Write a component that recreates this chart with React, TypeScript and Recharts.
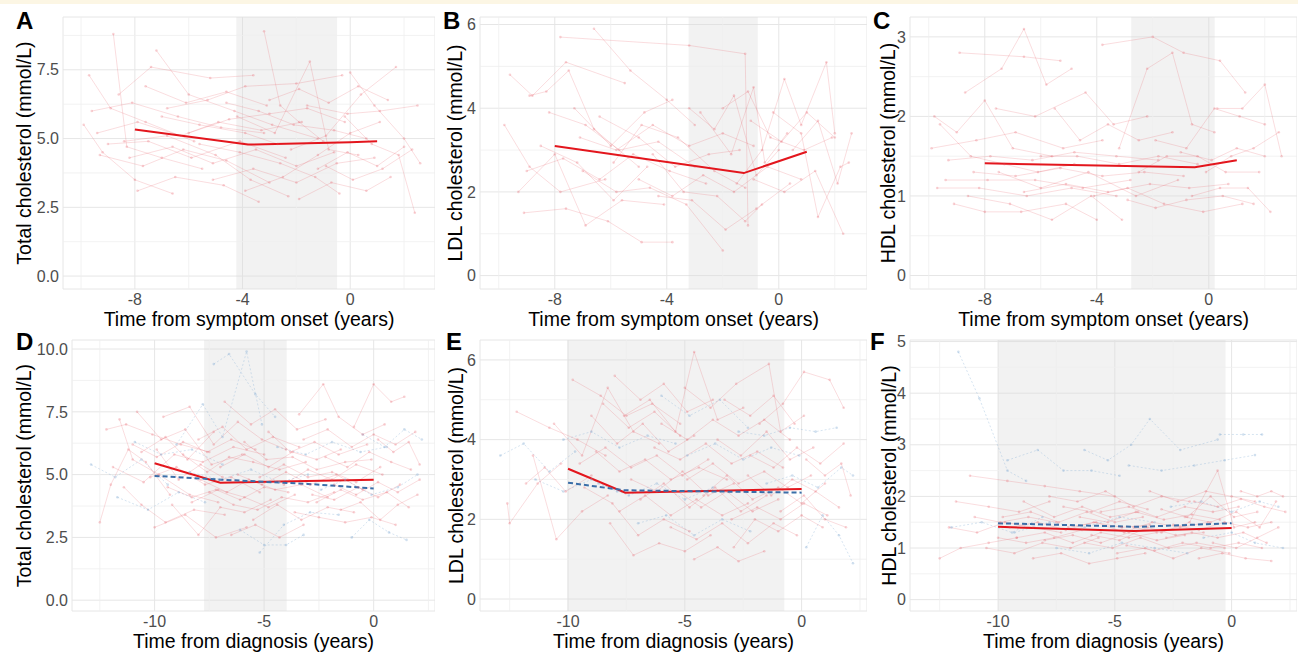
import React from "react";
import { LineChart, Line, XAxis, YAxis, CartesianGrid, ReferenceArea, ReferenceLine } from "recharts";

type Traj = number[][]; // [time, value] pairs

// ---- panel A: total cholesterol vs symptom onset ----
const trajA: Traj[] = [
  [[-9.7, 7.3], [-8.9, 6.1], [-7.6, 5.6], [-5.8, 4.9]],
  [[-8.8, 8.8], [-8.3, 4.7], [-7.0, 4.3], [-5.5, 3.9]],
  [[-9.9, 5.5], [-9.2, 4.5], [-8.0, 3.5], [-6.6, 3.0]],
  [[-9.3, 4.4], [-7.7, 4.0], [-6.2, 4.6], [-4.6, 4.2], [-3.0, 3.4]],
  [[-8.6, 6.6], [-7.4, 7.6], [-5.2, 7.2], [-3.6, 7.3]],
  [[-7.2, 8.2], [-6.0, 6.6], [-4.3, 6.0], [-2.9, 5.5], [-1.2, 5.0]],
  [[-9.6, 6.0], [-8.1, 6.3], [-6.4, 5.8], [-4.8, 5.4], [-3.2, 5.2]],
  [[-8.4, 4.9], [-6.8, 5.1], [-5.0, 4.4], [-3.7, 3.5], [-2.3, 2.9]],
  [[-7.9, 3.1], [-6.5, 3.6], [-4.7, 3.3], [-3.4, 2.7]],
  [[-6.8, 6.1], [-5.3, 6.4], [-3.9, 6.9], [-2.0, 7.0], [-0.3, 7.3]],
  [[-3.2, 8.9], [-2.6, 6.2], [-1.9, 5.6], [-1.0, 4.9]],
  [[-4.2, 5.8], [-2.8, 5.2], [-1.5, 7.8], [-0.8, 4.6], [0.3, 4.4]],
  [[-5.6, 4.8], [-4.1, 4.5], [-2.6, 4.1], [-1.3, 3.6], [-0.4, 3.0]],
  [[-3.9, 3.1], [-2.5, 3.6], [-1.2, 4.4], [0.0, 5.2], [1.1, 5.6]],
  [[-2.2, 4.6], [-0.9, 5.1], [0.4, 6.6], [1.7, 7.6]],
  [[-1.6, 6.2], [-0.1, 5.9], [1.1, 6.0], [2.5, 6.2]],
  [[-0.9, 4.0], [0.1, 3.5], [1.2, 3.9], [2.3, 4.6]],
  [[-0.2, 5.8], [0.8, 4.8], [1.8, 4.4], [2.4, 2.3]],
  [[-6.0, 5.2], [-4.5, 5.7], [-3.0, 5.9], [-1.6, 6.1], [-0.2, 5.6]],
  [[-9.0, 4.8], [-7.5, 4.9], [-5.9, 4.3], [-4.1, 4.9], [-2.4, 4.3]],
  [[-4.6, 6.3], [-3.4, 6.0], [-2.1, 5.5], [-0.6, 5.3], [0.6, 5.0]],
  [[-1.9, 2.8], [-0.7, 3.4], [0.6, 3.1], [1.5, 3.6]],
  [[-7.0, 5.8], [-5.6, 5.5], [-3.9, 5.2], [-2.7, 4.8]],
  [[0.0, 7.4], [0.9, 6.2], [2.0, 5.0], [2.6, 4.1]],
  [[-5.1, 3.5], [-3.6, 3.9], [-2.0, 3.4], [-0.5, 4.1], [0.9, 4.3]],
  [[-9.4, 5.2], [-7.9, 5.6], [-6.3, 5.1], [-4.9, 5.6], [-3.3, 5.3], [-1.8, 5.6]],
  [[-8.2, 4.3], [-6.6, 4.7], [-5.1, 4.1], [-3.5, 4.6], [-2.0, 4.0], [-0.6, 4.5]],
  [[-3.0, 6.4], [-1.9, 6.8], [-0.8, 6.3], [0.3, 6.9], [1.4, 6.4]],
  [[-7.6, 6.9], [-6.1, 6.3], [-4.6, 6.7], [-3.1, 6.2]],
  [[-1.2, 3.9], [-0.1, 4.5], [1.0, 4.0], [2.0, 4.7]],
];
const meanA: Traj = [[-8, 5.33], [-3.8, 4.78], [0, 4.87], [1, 4.9]];
const bandA = [-4.23, -0.49];

// ---- panel B: LDL vs symptom onset ----
const trajB: Traj[] = [
  [[-7.8, 5.7], [-3.2, 5.5], [-1.2, 5.3], [-1.1, 1.2]],
  [[-9.6, 4.8], [-8.8, 4.3], [-7.6, 5.1], [-5.5, 4.6]],
  [[-6.6, 5.9], [-5.3, 4.9], [-4.0, 4.2], [-3.0, 3.6]],
  [[-8.9, 4.3], [-8.3, 4.4], [-7.5, 4.9], [-6.6, 3.5], [-5.0, 2.6]],
  [[-9.8, 3.6], [-8.9, 2.6], [-7.8, 2.0], [-6.2, 2.3]],
  [[-9.3, 2.0], [-8.0, 2.9], [-6.9, 1.2], [-5.6, 1.8], [-4.1, 1.7]],
  [[-9.1, 1.5], [-7.6, 1.6], [-6.1, 1.3], [-4.9, 0.8], [-3.8, 0.8]],
  [[-8.2, 3.9], [-6.9, 3.6], [-5.7, 3.0], [-4.3, 3.2], [-3.0, 2.6]],
  [[-7.0, 2.5], [-5.8, 2.0], [-4.6, 2.1], [-3.3, 1.7], [-2.0, 0.6]],
  [[-5.9, 2.7], [-4.9, 3.6], [-3.6, 3.3], [-2.3, 2.5], [-1.2, 2.1]],
  [[-3.2, 4.0], [-2.3, 3.5], [-1.6, 4.3], [-0.8, 2.4], [0.0, 3.0]],
  [[-2.8, 3.9], [-1.7, 2.9], [-0.9, 4.5], [-0.5, 2.7], [0.3, 3.4]],
  [[-4.5, 2.9], [-3.4, 2.0], [-2.2, 1.9], [-1.2, 1.3], [-0.6, 1.7]],
  [[-1.5, 2.2], [-0.6, 3.0], [0.2, 4.7], [0.8, 3.6], [1.7, 5.1], [2.0, 3.4]],
  [[-0.9, 2.3], [0.2, 2.0], [1.3, 2.5], [2.3, 1.0]],
  [[-0.2, 3.9], [0.8, 3.4], [1.4, 1.4], [2.2, 2.6], [2.5, 2.7]],
  [[-6.4, 3.8], [-5.0, 3.3], [-3.7, 2.6], [-2.5, 2.9], [-1.4, 3.0]],
  [[-8.5, 3.1], [-7.2, 2.7], [-5.9, 1.8], [-4.7, 2.6]],
  [[-4.3, 1.9], [-3.1, 1.8], [-1.9, 1.1], [-0.8, 1.6], [0.4, 2.2]],
  [[-2.0, 4.0], [-1.1, 4.4], [-0.3, 3.3], [0.9, 3.0], [1.9, 3.3]],
  [[0.5, 3.0], [1.4, 3.7], [2.1, 2.2], [2.6, 3.4]],
  [[-7.3, 4.0], [-6.0, 3.1], [-4.8, 3.9], [-3.8, 4.2]],
  [[-9.0, 2.5], [-7.7, 2.8], [-6.4, 2.3], [-5.2, 2.9], [-3.9, 2.5], [-2.6, 2.2]],
  [[-7.1, 3.3], [-5.8, 3.0], [-4.5, 3.6], [-3.2, 3.1], [-2.0, 3.4], [-0.9, 3.1]],
  [[-5.0, 2.3], [-3.8, 1.9], [-2.7, 2.4], [-1.6, 2.0], [-0.4, 2.6], [0.8, 2.3]],
  [[-1.0, 3.7], [0.1, 3.2], [1.0, 3.9], [2.0, 3.3]],
];
const meanB: Traj = [[-8, 3.1], [-1.25, 2.45], [1, 2.96]];
const bandB = [-3.22, -0.75];

// ---- panel C: HDL vs symptom onset ----
const trajC: Traj[] = [
  [[-8.9, 2.8], [-6.6, 2.75], [-5.3, 2.7]],
  [[-8.7, 2.3], [-7.4, 2.6], [-6.6, 3.1], [-5.8, 2.4], [-4.9, 2.6]],
  [[-9.8, 2.0], [-9.0, 1.8], [-8.0, 2.2], [-7.0, 1.6], [-5.6, 1.5]],
  [[-9.6, 1.9], [-8.5, 1.5], [-7.3, 1.4], [-6.1, 1.3], [-4.8, 1.4]],
  [[-9.9, 1.6], [-8.3, 1.7], [-6.9, 1.8], [-5.2, 1.6], [-3.8, 1.7]],
  [[-9.4, 1.2], [-7.9, 1.2], [-6.2, 1.2], [-4.5, 1.1], [-2.8, 1.2]],
  [[-9.7, 1.1], [-8.2, 1.1], [-6.5, 1.0], [-4.9, 1.1], [-3.3, 1.0]],
  [[-9.1, 0.9], [-8.0, 0.8], [-6.7, 0.8], [-5.1, 0.9], [-4.0, 0.7]],
  [[-8.6, 1.0], [-7.1, 0.9], [-5.6, 0.7], [-4.2, 1.0], [-3.1, 0.7]],
  [[-7.6, 2.1], [-6.2, 2.0], [-4.4, 2.3], [-3.4, 1.9], [-2.2, 2.0]],
  [[-5.5, 2.1], [-4.6, 1.7], [-3.6, 1.9], [-2.5, 1.7], [-1.3, 1.8]],
  [[-3.8, 2.9], [-2.0, 3.0], [-0.9, 2.8], [0.4, 2.7], [1.3, 2.3]],
  [[-3.2, 1.6], [-2.2, 2.6], [-1.3, 2.8], [-0.6, 1.9], [0.2, 1.8]],
  [[-2.5, 1.3], [-1.5, 1.5], [-0.4, 1.5], [0.6, 1.3], [1.8, 1.3]],
  [[-4.1, 1.0], [-2.9, 1.1], [-1.6, 0.9], [-0.2, 0.8], [1.2, 0.9]],
  [[-1.9, 1.7], [-0.8, 1.6], [0.2, 2.1], [1.1, 2.0], [2.0, 1.9]],
  [[-0.6, 1.0], [0.4, 1.1], [1.4, 1.1], [2.2, 0.8]],
  [[-0.1, 1.3], [0.8, 1.5], [1.6, 1.6], [2.5, 1.8]],
  [[0.3, 2.1], [1.2, 2.1], [2.0, 2.4], [2.6, 1.5]],
  [[-6.0, 1.5], [-4.7, 1.5], [-3.2, 1.4], [-1.8, 1.5], [-0.4, 1.4]],
  [[-7.5, 1.3], [-6.0, 1.1], [-4.3, 1.3], [-2.6, 1.0], [-1.1, 1.2]],
  [[-2.9, 0.95], [-1.9, 0.85], [-0.8, 0.95], [0.5, 1.0], [1.6, 0.9]],
  [[-9.3, 1.45], [-7.8, 1.5], [-6.3, 1.45], [-4.8, 1.55], [-3.3, 1.5], [-1.8, 1.45]],
  [[-8.4, 1.3], [-6.9, 1.25], [-5.3, 1.35], [-3.8, 1.25], [-2.3, 1.3], [-0.9, 1.25]],
  [[-6.6, 1.05], [-5.1, 1.15], [-3.6, 1.05], [-2.1, 1.15], [-0.7, 1.1], [0.7, 1.15]],
  [[-1.0, 1.55], [0.1, 1.45], [1.0, 1.6], [2.0, 1.5]],
];
const meanC: Traj = [[-8, 1.41], [-0.5, 1.36], [1, 1.45]];
const bandC = [-2.77, 0.21];

// ---- panel D: total cholesterol vs diagnosis ----
const trajDRed: Traj[] = [
  [[-12.5, 3.1], [-12.0, 4.6], [-11.2, 6.0], [-10.4, 5.5], [-9.3, 4.2]],
  [[-12.2, 6.8], [-11.3, 7.0], [-10.1, 6.6], [-8.8, 6.2], [-7.5, 5.9]],
  [[-11.6, 7.2], [-11.0, 5.6], [-9.8, 5.0], [-8.4, 4.2], [-7.1, 3.9]],
  [[-11.4, 4.5], [-10.6, 3.8], [-9.5, 3.1], [-8.2, 3.6], [-6.8, 3.4]],
  [[-10.8, 7.5], [-9.7, 6.4], [-8.6, 6.8], [-7.4, 5.4], [-6.0, 5.8]],
  [[-10.2, 4.9], [-9.0, 5.3], [-7.7, 4.6], [-6.5, 4.9], [-5.2, 4.3]],
  [[-9.6, 7.3], [-8.4, 7.7], [-7.3, 6.2], [-6.2, 7.1], [-5.1, 6.4], [-4.0, 6.0]],
  [[-9.2, 3.8], [-8.0, 2.6], [-7.0, 3.7], [-5.9, 3.5], [-4.7, 4.0]],
  [[-8.7, 5.8], [-7.6, 5.1], [-6.6, 5.7], [-5.5, 5.5], [-4.3, 5.2], [-3.1, 5.5]],
  [[-8.0, 6.4], [-6.9, 6.9], [-5.8, 6.0], [-4.6, 6.5], [-3.4, 6.1]],
  [[-7.5, 4.3], [-6.4, 3.8], [-5.3, 3.6], [-4.2, 4.1], [-3.0, 3.9], [-1.8, 4.3]],
  [[-6.8, 7.9], [-5.6, 7.0], [-4.5, 7.6], [-3.5, 6.8], [-2.2, 7.2]],
  [[-6.2, 5.0], [-5.1, 4.6], [-4.0, 5.1], [-2.9, 4.6], [-1.7, 5.0], [-0.5, 4.4]],
  [[-5.5, 3.2], [-4.4, 3.8], [-3.3, 3.2], [-2.1, 3.7], [-0.9, 3.5]],
  [[-4.8, 6.7], [-3.8, 5.9], [-2.7, 6.3], [-1.6, 5.8], [-0.3, 6.2]],
  [[-4.1, 4.6], [-3.0, 5.2], [-1.9, 4.8], [-0.8, 5.4], [0.4, 5.0]],
  [[-3.4, 7.4], [-2.3, 8.6], [-1.6, 7.3], [-0.5, 6.6], [0.5, 7.0]],
  [[-2.8, 4.2], [-1.8, 4.0], [-0.7, 4.5], [0.2, 4.1], [1.2, 4.6]],
  [[-2.2, 5.7], [-1.2, 5.3], [-0.2, 5.9], [0.8, 5.5], [1.7, 5.2]],
  [[-1.5, 3.6], [-0.6, 3.9], [0.3, 3.2], [1.1, 3.8], [2.0, 4.2]],
  [[-0.9, 6.9], [0.0, 8.6], [0.8, 7.9], [1.4, 8.1]],
  [[-11.9, 5.3], [-10.5, 4.7], [-9.1, 5.8], [-7.8, 5.5], [-6.4, 6.1], [-5.0, 5.8]],
  [[-7.9, 4.8], [-6.7, 4.3], [-5.7, 4.8], [-4.5, 4.4], [-3.3, 4.6], [-2.1, 4.1]],
  [[-5.9, 6.3], [-4.9, 5.6], [-3.7, 5.7], [-2.6, 5.2], [-1.3, 5.5], [-0.1, 5.6]],
  [[-9.9, 6.0], [-8.9, 4.8], [-7.9, 5.4], [-6.9, 4.9]],
  [[-3.6, 3.5], [-2.5, 3.3], [-1.3, 3.1], [-0.1, 3.3], [1.0, 3.0]],
  [[-10.0, 2.9], [-8.6, 3.4], [-7.2, 2.5], [-5.8, 2.9]],
  [[0.2, 6.4], [0.9, 5.9], [1.6, 6.3], [2.1, 5.4]],
  [[-11.0, 6.2], [-9.9, 5.7], [-8.7, 6.3], [-7.6, 5.9], [-6.5, 6.4], [-5.4, 6.0]],
  [[-9.4, 4.5], [-8.3, 4.1], [-7.2, 4.4], [-6.1, 4.0], [-5.0, 4.5], [-3.9, 4.3]],
  [[-7.0, 5.3], [-5.9, 5.8], [-4.8, 5.3], [-3.7, 5.9], [-2.6, 5.6], [-1.5, 6.0]],
  [[-5.2, 4.9], [-4.1, 5.4], [-3.0, 4.9], [-1.9, 5.1], [-0.8, 4.7], [0.3, 5.3]],
  [[-3.2, 6.4], [-2.1, 6.8], [-1.0, 6.1], [0.0, 6.6], [1.0, 6.2], [1.9, 6.7]],
  [[-1.8, 4.6], [-0.8, 4.2], [0.2, 4.7], [1.1, 4.3], [2.1, 4.8]],
  [[-8.3, 3.9], [-7.1, 4.4], [-5.9, 4.1], [-4.8, 3.7], [-3.6, 4.2]],
  [[-6.5, 2.6], [-5.4, 3.0], [-4.3, 2.5], [-3.2, 3.0]],
  [[-2.6, 3.9], [-1.5, 4.4], [-0.5, 4.0], [0.6, 4.3], [1.6, 3.7]],
  [[-10.6, 5.9], [-9.5, 6.5], [-8.5, 5.6], [-7.3, 6.7]],
];
const trajDBlue: Traj[] = [
  [[-12.9, 5.4], [-11.8, 4.9], [-10.6, 5.6], [-9.4, 4.6]],
  [[-11.7, 4.1], [-10.3, 3.6], [-8.9, 4.3], [-7.7, 3.9]],
  [[-9.0, 6.2], [-7.8, 7.8], [-6.9, 6.5], [-5.8, 9.9], [-5.1, 7.0]],
  [[-7.3, 9.4], [-6.6, 9.8], [-5.4, 8.2], [-4.5, 7.3]],
  [[-8.4, 5.1], [-7.0, 4.8], [-5.6, 5.2], [-4.3, 4.7], [-3.0, 5.0]],
  [[-6.1, 2.8], [-5.0, 2.2], [-4.0, 2.2], [-3.2, 2.6]],
  [[-5.2, 1.9], [-4.1, 3.0], [-2.9, 3.5], [-1.6, 3.4]],
  [[-4.4, 6.1], [-3.1, 5.8], [-1.9, 6.3], [-0.6, 5.9], [0.6, 6.1]],
  [[-2.4, 4.4], [-1.3, 4.8], [-0.1, 4.2], [1.1, 4.5], [2.0, 5.0]],
  [[-1.0, 2.5], [-0.2, 3.2], [0.7, 2.7], [1.5, 2.4]],
  [[-10.9, 6.3], [-9.7, 5.8], [-8.3, 6.0], [-6.9, 5.4]],
  [[-0.5, 6.6], [0.5, 6.1], [1.4, 6.8], [2.2, 6.4]],
];
const meanDRed: Traj = [[-10, 5.45], [-7, 4.68], [0, 4.8]];
const meanDBlue: Traj = [[-10, 4.95], [-7, 4.8], [-3, 4.63], [0, 4.45]];
const bandD = [-7.74, -3.97];

// ---- panel E: LDL vs diagnosis ----
const trajERed: Traj[] = [
  [[-12.6, 2.4], [-12.5, 1.9], [-11.3, 2.9], [-10.3, 3.4]],
  [[-12.2, 4.7], [-10.8, 4.3], [-9.6, 4.0], [-8.4, 3.6]],
  [[-11.5, 3.6], [-10.5, 1.5], [-9.4, 2.2], [-8.3, 2.6]],
  [[-10.6, 4.4], [-9.4, 3.6], [-8.3, 5.3], [-7.2, 4.2], [-6.1, 3.9]],
  [[-9.8, 5.5], [-8.6, 5.1], [-7.5, 4.6], [-6.4, 4.9], [-5.2, 4.4]],
  [[-9.3, 2.8], [-8.1, 2.4], [-7.0, 1.6], [-5.9, 2.0], [-4.8, 1.7]],
  [[-8.8, 3.7], [-7.8, 3.2], [-6.7, 3.5], [-5.6, 3.0], [-4.4, 3.3], [-3.2, 3.0]],
  [[-8.2, 1.9], [-7.2, 1.1], [-6.1, 1.4], [-5.0, 1.2], [-3.9, 1.6]],
  [[-7.6, 4.6], [-6.5, 5.0], [-5.4, 4.2], [-4.6, 6.2], [-3.6, 4.5], [-2.5, 4.8]],
  [[-6.9, 2.5], [-5.9, 2.9], [-4.8, 2.3], [-3.7, 2.8], [-2.6, 2.2], [-1.5, 2.6]],
  [[-6.3, 3.8], [-5.2, 3.5], [-4.1, 3.9], [-3.0, 3.4], [-1.9, 3.7], [-0.8, 3.3]],
  [[-5.6, 1.8], [-4.5, 1.5], [-3.4, 1.9], [-2.3, 1.4], [-1.2, 1.9], [-0.2, 1.6]],
  [[-5.0, 5.3], [-3.9, 4.8], [-2.8, 5.4], [-1.4, 5.9], [-0.9, 4.2], [0.1, 4.6]],
  [[-4.2, 2.6], [-3.2, 3.1], [-2.1, 2.5], [-1.0, 2.8], [0.0, 2.4], [1.0, 2.9]],
  [[-3.6, 4.0], [-2.6, 3.6], [-1.5, 4.2], [-0.5, 3.5], [0.5, 3.8]],
  [[-2.9, 1.3], [-2.0, 2.0], [-1.0, 1.7], [0.0, 2.1], [0.9, 1.8]],
  [[-2.3, 3.1], [-1.3, 2.6], [-0.4, 3.0], [0.6, 2.7], [1.6, 2.3]],
  [[-1.8, 4.4], [-0.8, 4.9], [0.1, 5.7], [1.2, 5.5], [1.8, 4.8]],
  [[-0.9, 2.2], [0.1, 2.6], [1.0, 2.0], [1.9, 1.8]],
  [[-7.3, 3.0], [-6.2, 2.7], [-5.1, 3.2], [-4.0, 2.6], [-2.9, 2.9]],
  [[-9.0, 4.6], [-7.9, 3.9], [-6.8, 4.4], [-5.7, 3.7], [-4.6, 4.1]],
  [[-4.6, 1.0], [-3.6, 1.3], [-2.7, 0.95], [-1.6, 1.2]],
  [[-8.0, 5.6], [-6.9, 5.0], [-5.9, 5.4], [-4.9, 4.7], [-3.8, 5.0]],
  [[0.2, 3.5], [1.0, 3.1], [1.7, 3.4], [2.1, 2.6]],
  [[-3.3, 5.0], [-2.2, 4.6], [-1.2, 5.1], [-0.3, 4.4]],
  [[-11.8, 2.9], [-11.0, 3.3], [-10.1, 2.7], [-9.0, 3.1]],
  [[-9.5, 3.4], [-8.4, 3.8], [-7.3, 3.3], [-6.2, 3.6], [-5.1, 3.1], [-4.0, 3.5]],
  [[-7.8, 2.2], [-6.7, 2.6], [-5.6, 2.1], [-4.5, 2.5], [-3.4, 2.1], [-2.3, 2.4]],
  [[-6.0, 4.4], [-4.9, 4.0], [-3.8, 4.5], [-2.7, 4.1], [-1.6, 4.5], [-0.5, 4.0]],
  [[-4.9, 3.0], [-3.8, 3.4], [-2.7, 2.9], [-1.6, 3.2], [-0.6, 2.8], [0.4, 3.1]],
  [[-3.0, 2.0], [-1.9, 2.3], [-0.9, 2.0], [0.1, 2.4], [1.1, 2.1]],
  [[-8.5, 4.9], [-7.4, 4.3], [-6.3, 4.7], [-5.2, 4.1]],
  [[-2.2, 3.6], [-1.2, 3.3], [-0.2, 3.8], [0.8, 3.4], [1.8, 3.9]],
  [[-5.3, 2.7], [-4.3, 2.3], [-3.2, 2.7], [-2.1, 2.2], [-1.0, 2.5]],
];
const trajEBlue: Traj[] = [
  [[-12.9, 3.6], [-11.9, 3.9], [-10.8, 3.2], [-9.7, 3.7]],
  [[-10.2, 4.0], [-9.0, 4.2], [-7.8, 3.8], [-6.6, 4.1], [-5.4, 3.9]],
  [[-8.7, 2.9], [-7.4, 2.6], [-6.2, 2.9], [-5.0, 2.5], [-3.8, 2.8]],
  [[-7.0, 1.9], [-5.8, 2.1], [-4.6, 1.6], [-3.4, 2.0], [-2.2, 1.7]],
  [[-6.0, 5.1], [-4.8, 4.6], [-3.5, 5.0], [-2.3, 4.3]],
  [[-4.9, 3.6], [-3.7, 3.9], [-2.5, 3.5], [-1.3, 3.8], [-0.1, 3.6]],
  [[-2.7, 4.2], [-1.6, 4.1], [-0.5, 4.3], [0.6, 4.2], [1.5, 4.3]],
  [[-1.5, 2.9], [-0.4, 3.1], [0.7, 2.8], [1.7, 3.3], [2.2, 3.1]],
  [[-11.4, 3.0], [-10.2, 2.7], [-9.0, 3.0], [-7.9, 2.7]],
  [[0.2, 1.3], [0.9, 2.1], [1.6, 1.6], [2.2, 0.9]],
];
const meanERed: Traj = [[-10, 3.27], [-7.55, 2.67], [0, 2.76]];
const meanEBlue: Traj = [[-10, 2.92], [-7.6, 2.73], [0, 2.67]];
const bandE = [-10.03, -0.74];

// ---- panel F: HDL vs diagnosis ----
const trajFRed: Traj[] = [
  [[-12.5, 0.8], [-11.6, 1.0], [-10.4, 1.1], [-9.2, 1.2]],
  [[-12.1, 1.4], [-10.9, 1.3], [-9.7, 1.5], [-8.5, 1.4], [-7.3, 1.3]],
  [[-11.8, 1.9], [-10.4, 1.8], [-9.1, 1.7], [-7.8, 1.9]],
  [[-11.2, 2.4], [-9.6, 2.3], [-8.0, 2.2], [-6.5, 2.1], [-5.0, 2.0]],
  [[-10.5, 1.0], [-9.3, 0.9], [-8.1, 1.1], [-6.9, 1.0], [-5.7, 1.2]],
  [[-9.8, 1.6], [-8.6, 1.7], [-7.4, 1.5], [-6.2, 1.7], [-5.0, 1.5], [-3.8, 1.6]],
  [[-9.2, 1.2], [-8.0, 1.3], [-6.8, 1.1], [-5.6, 1.3], [-4.4, 1.2], [-3.2, 1.3]],
  [[-8.5, 0.8], [-7.3, 0.9], [-6.1, 0.7], [-4.9, 0.8], [-3.7, 0.9]],
  [[-7.8, 2.0], [-6.6, 1.9], [-5.4, 2.1], [-4.2, 1.8], [-3.0, 2.0], [-1.8, 1.9]],
  [[-7.0, 1.4], [-5.8, 1.5], [-4.6, 1.3], [-3.4, 1.5], [-2.2, 1.4], [-1.0, 1.5]],
  [[-6.3, 1.1], [-5.1, 1.0], [-3.9, 1.2], [-2.7, 1.0], [-1.5, 1.1], [-0.3, 1.0]],
  [[-5.6, 1.7], [-4.4, 1.8], [-3.2, 1.6], [-2.0, 1.8], [-0.8, 1.7], [0.3, 1.8]],
  [[-4.9, 0.9], [-3.7, 1.0], [-2.5, 0.8], [-1.3, 1.0], [-0.1, 0.9]],
  [[-4.2, 1.4], [-3.0, 1.3], [-1.8, 1.5], [-0.6, 2.5], [0.1, 1.4], [1.0, 1.5]],
  [[-3.5, 2.1], [-2.3, 1.9], [-1.1, 2.1], [0.0, 2.0], [1.0, 1.9]],
  [[-2.8, 1.2], [-1.7, 1.3], [-0.6, 1.2], [0.5, 1.3], [1.5, 1.1]],
  [[-2.0, 1.6], [-0.9, 1.5], [0.2, 1.7], [1.2, 1.4], [1.9, 1.9]],
  [[-1.4, 0.8], [-0.4, 0.9], [0.6, 0.8], [1.7, 0.75]],
  [[-0.8, 1.1], [0.2, 1.0], [1.1, 1.2], [2.0, 1.4]],
  [[-8.9, 1.9], [-7.6, 1.6], [-6.4, 1.8], [-5.2, 1.6], [-4.0, 1.7]],
  [[-6.0, 1.25], [-4.8, 1.15], [-3.6, 1.4], [-2.4, 1.25], [-1.2, 1.3]],
  [[-10.0, 1.2], [-8.8, 1.1], [-7.6, 1.2], [-6.4, 1.35]],
  [[-3.0, 1.75], [-1.9, 1.6], [-0.9, 2.0], [0.1, 1.6], [1.1, 1.7]],
  [[0.4, 2.1], [1.1, 2.0], [1.7, 2.1], [2.2, 2.0]],
  [[-9.5, 1.4], [-8.3, 1.5], [-7.1, 1.35], [-5.9, 1.5], [-4.7, 1.4], [-3.5, 1.45]],
  [[-8.0, 1.15], [-6.8, 1.25], [-5.6, 1.1], [-4.4, 1.3], [-3.2, 1.15], [-2.0, 1.25]],
  [[-6.5, 1.6], [-5.3, 1.5], [-4.1, 1.7], [-2.9, 1.55], [-1.7, 1.65], [-0.5, 1.55]],
  [[-4.5, 1.05], [-3.3, 0.95], [-2.1, 1.1], [-0.9, 1.0], [0.3, 1.1], [1.3, 1.0]],
  [[-2.5, 1.45], [-1.4, 1.35], [-0.3, 1.5], [0.7, 1.4], [1.7, 1.5]],
  [[-7.2, 1.8], [-6.0, 1.7], [-4.8, 1.9], [-3.6, 1.75]],
  [[-11.0, 1.6], [-9.9, 1.5], [-8.7, 1.6], [-7.5, 1.5]],
  [[-1.6, 1.9], [-0.6, 1.8], [0.4, 1.95], [1.4, 1.8], [2.3, 1.7]],
];
const trajFBlue: Traj[] = [
  [[-11.7, 4.8], [-10.8, 3.9], [-9.6, 2.5], [-8.8, 2.3]],
  [[-9.6, 2.7], [-8.3, 2.9], [-7.2, 2.5], [-6.0, 2.5], [-4.8, 2.4]],
  [[-6.3, 2.9], [-5.3, 2.7], [-4.3, 3.0], [-3.5, 3.5], [-2.2, 2.9], [-0.6, 3.1]],
  [[-9.3, 1.3], [-7.8, 1.5], [-6.3, 1.4], [-4.8, 1.6], [-3.3, 1.5]],
  [[-7.5, 1.0], [-6.1, 0.9], [-4.7, 1.1], [-3.3, 1.0], [-1.9, 0.9]],
  [[-4.4, 2.6], [-3.0, 2.5], [-1.6, 2.6], [-0.3, 2.7], [1.0, 2.8]],
  [[-2.6, 1.8], [-1.3, 1.9], [0.0, 1.7], [1.2, 1.9], [2.0, 1.8]],
  [[-12.0, 1.4], [-10.7, 1.5], [-9.4, 1.3], [-8.1, 1.6]],
  [[-0.5, 3.2], [0.5, 3.2], [1.3, 3.2]],
  [[-1.2, 1.2], [0.0, 1.3], [1.0, 1.1], [2.2, 1.0]],
];
const meanFRed: Traj = [[-10, 1.41], [-4.2, 1.33], [0, 1.39]];
const meanFBlue: Traj = [[-10, 1.48], [-4, 1.41], [0, 1.48]];
const bandF = [-10, -0.26];

// ticks
const topXMajor = [-8, -4, 0];
const topXMinor = [-10, -6, -2, 2];
const botXMajor = [-10, -5, 0];
const botXMinor = [-12.5, -7.5, -2.5, 2.5];
const totalYMajor = [0, 2.5, 5, 7.5];
const totalYMinor = [1.25, 3.75, 6.25, 8.75];
const totalDYMajor = [0, 2.5, 5, 7.5, 10];
const ldlYMajor = [0, 2, 4, 6];
const ldlYMinor = [1, 3, 5];
const hdlYMajor = [0, 1, 2, 3];
const hdlYMinor = [0.5, 1.5, 2.5];
const hdlFYMajor = [0, 1, 2, 3, 4, 5];
const hdlFYMinor = [0.5, 1.5, 2.5, 3.5, 4.5];

const RED = "#e3161d";
const PINK = "#e8505a";
const LIGHTBLUE = "#8cb2d8";
const BLUE = "#3b6ea8";
const GRID = "#e6e6e6";
const GRID_MINOR = "#efefef";
const PAD = 10; // room above the panel for the top tick label

const toPts = (tr: Traj) => tr.map(([t, v]) => ({ t, v }));

interface PanelProps {
  letter: string;
  letterPos: [number, number];
  left: number;
  top: number;
  width: number;
  height: number;
  yAxisWidth: number;
  titleOffset: number;
  xDomain: [number, number];
  yDomain: [number, number];
  xMajor: number[];
  xMinor: number[];
  yMajor: number[];
  yMinor: number[];
  yDigits: number;
  band: number[];
  red: Traj[];
  blue: Traj[];
  redMean: Traj;
  blueMean?: Traj;
  xTitle: string;
  yTitle: string;
}

const Panel: React.FC<PanelProps> = (p) => (
  <>
    <div style={{ position: "absolute", left: p.left, top: p.top - PAD, width: p.width, height: p.height + PAD }}>
      <LineChart width={p.width} height={p.height + PAD} margin={{ top: PAD, right: 0, bottom: 0, left: 0 }}>
        <CartesianGrid stroke={GRID} strokeWidth={1} />
        {p.xMinor.map((x) => (
          <ReferenceLine key={"vx" + x} x={x} stroke={GRID_MINOR} strokeWidth={0.8} />
        ))}
        {p.yMinor.map((y) => (
          <ReferenceLine key={"hy" + y} y={y} stroke={GRID_MINOR} strokeWidth={0.8} />
        ))}
        <ReferenceArea x1={p.band[0]} x2={p.band[1]} fill="#d9d9d9" fillOpacity={0.35} stroke="none" />
        <XAxis
          type="number"
          dataKey="t"
          domain={p.xDomain}
          ticks={p.xMajor}
          interval={0}
          allowDataOverflow
          axisLine={false}
          tickLine={false}
          tickSize={0}
          tickMargin={5}
          height={42}
          tick={{ fill: "#4d4d4d", fontSize: 16 }}
          label={{ value: p.xTitle, position: "insideBottom", offset: 5, fill: "#000", fontSize: 19.5 }}
        />
        <YAxis
          type="number"
          dataKey="v"
          domain={p.yDomain}
          ticks={p.yMajor}
          interval={0}
          allowDataOverflow
          axisLine={false}
          tickLine={false}
          tickSize={0}
          tickMargin={4}
          width={p.yAxisWidth}
          tick={{ fill: "#4d4d4d", fontSize: 16 }}
          tickFormatter={(v: number) => v.toFixed(p.yDigits)}
          label={{
            value: p.yTitle,
            angle: -90,
            position: "insideLeft",
            offset: p.titleOffset,
            fill: "#000",
            fontSize: 19.5,
            style: { textAnchor: "middle" },
          }}
        />
        {p.blue.map((tr, i) => (
          <Line
            key={"b" + i}
            data={toPts(tr)}
            dataKey="v"
            type="linear"
            stroke={LIGHTBLUE}
            strokeOpacity={0.4}
            strokeWidth={0.9}
            strokeDasharray="2 2"
            dot={{ r: 1.3, fill: LIGHTBLUE, fillOpacity: 0.4, strokeWidth: 0 }}
            activeDot={false}
            isAnimationActive={false}
          />
        ))}
        {p.red.map((tr, i) => (
          <Line
            key={"r" + i}
            data={toPts(tr)}
            dataKey="v"
            type="linear"
            stroke={PINK}
            strokeOpacity={0.22}
            strokeWidth={0.9}
            dot={{ r: 1.3, fill: PINK, fillOpacity: 0.25, strokeWidth: 0 }}
            activeDot={false}
            isAnimationActive={false}
          />
        ))}
        <Line
          data={toPts(p.redMean)}
          dataKey="v"
          type="linear"
          stroke={RED}
          strokeWidth={2}
          dot={false}
          activeDot={false}
          isAnimationActive={false}
        />
        {p.blueMean && (
          <Line
            data={toPts(p.blueMean)}
            dataKey="v"
            type="linear"
            stroke={BLUE}
            strokeWidth={2}
            strokeDasharray="5 3"
            dot={false}
            activeDot={false}
            isAnimationActive={false}
          />
        )}
      </LineChart>
    </div>
    <div
      style={{
        position: "absolute",
        left: p.letterPos[0],
        top: p.letterPos[1],
        fontSize: 24,
        lineHeight: "24px",
        fontWeight: "bold",
        color: "#000",
      }}
    >
      {p.letter}
    </div>
  </>
);

const topX: [number, number] = [-10.67, 3.15];
const botX: [number, number] = [-13.77, 2.8];
const onset = "Time from symptom onset (years)";
const diag = "Time from diagnosis (years)";

export default function App() {
  return (
    <div
      style={{
        position: "absolute",
        left: 0,
        top: 0,
        width: 1298,
        height: 655,
        background: "#fff",
        fontFamily: "'Liberation Sans', Arial, sans-serif",
        overflow: "hidden",
      }}
    >
      <div style={{ position: "absolute", left: 0, top: 0, width: 1298, height: 4, background: "#fcf6e4" }} />
      <Panel letter="A" letterPos={[16, 9]} left={8} top={17} width={427} height={314} yAxisWidth={55} titleOffset={16}
        xDomain={topX} yDomain={[-0.47, 9.42]} xMajor={topXMajor} xMinor={topXMinor} yMajor={totalYMajor} yMinor={totalYMinor} yDigits={1}
        band={bandA} red={trajA} blue={[]} redMean={meanA} xTitle={onset} yTitle="Total cholesterol (mmol/L)" />
      <Panel letter="B" letterPos={[443, 9]} left={440} top={17} width={427} height={314} yAxisWidth={40} titleOffset={15}
        xDomain={topX} yDomain={[-0.32, 6.18]} xMajor={topXMajor} xMinor={topXMinor} yMajor={ldlYMajor} yMinor={ldlYMinor} yDigits={0}
        band={bandB} red={trajB} blue={[]} redMean={meanB} xTitle={onset} yTitle="LDL cholesterol (mmol/L)" />
      <Panel letter="C" letterPos={[873, 9]} left={872} top={17} width={425} height={314} yAxisWidth={38} titleOffset={16}
        xDomain={topX} yDomain={[-0.17, 3.25]} xMajor={topXMajor} xMinor={topXMinor} yMajor={hdlYMajor} yMinor={hdlYMinor} yDigits={0}
        band={bandC} red={trajC} blue={[]} redMean={meanC} xTitle={onset} yTitle="HDL cholesterol (mmol/L)" />
      <Panel letter="D" letterPos={[16, 330]} left={8} top={340} width={427} height={313} yAxisWidth={64} titleOffset={16}
        xDomain={botX} yDomain={[-0.43, 10.36]} xMajor={botXMajor} xMinor={botXMinor} yMajor={totalDYMajor} yMinor={totalYMinor} yDigits={1}
        band={bandD} red={trajDRed} blue={trajDBlue} redMean={meanDRed} blueMean={meanDBlue} xTitle={diag} yTitle="Total cholesterol (mmol/L)" />
      <Panel letter="E" letterPos={[446, 330]} left={440} top={340} width={427} height={313} yAxisWidth={40} titleOffset={16}
        xDomain={botX} yDomain={[-0.3, 6.5]} xMajor={botXMajor} xMinor={botXMinor} yMajor={ldlYMajor} yMinor={ldlYMinor} yDigits={0}
        band={bandE} red={trajERed} blue={trajEBlue} redMean={meanERed} blueMean={meanEBlue} xTitle={diag} yTitle="LDL cholesterol (mmol/L)" />
      <Panel letter="F" letterPos={[870, 330]} left={872} top={340} width={425} height={313} yAxisWidth={38} titleOffset={17}
        xDomain={botX} yDomain={[-0.22, 5.03]} xMajor={botXMajor} xMinor={botXMinor} yMajor={hdlFYMajor} yMinor={hdlFYMinor} yDigits={0}
        band={bandF} red={trajFRed} blue={trajFBlue} redMean={meanFRed} blueMean={meanFBlue} xTitle={diag} yTitle="HDL cholesterol (mmol/L)" />
    </div>
  );
}
